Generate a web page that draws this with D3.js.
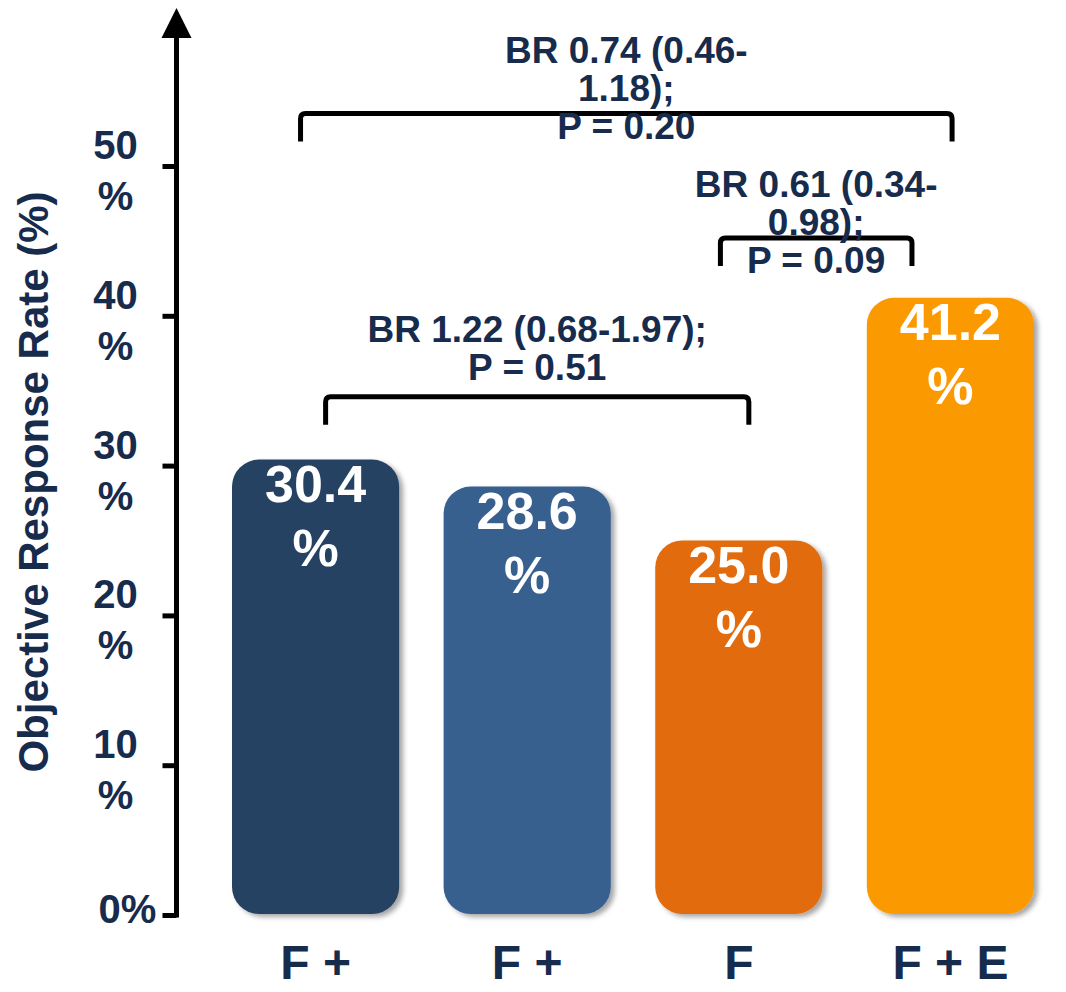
<!DOCTYPE html>
<html>
<head>
<meta charset="utf-8">
<script src="https://cdn.jsdelivr.net/npm/d3@7"></script>
<style>
  html, body { margin: 0; padding: 0; background: #ffffff; }
  svg { display: block; }
  text { font-family: "Liberation Sans", Arial, sans-serif; font-weight: bold; }
</style>
</head>
<body>
<svg id="chart" width="1066" height="992"></svg>
<script>
// ---- data ----
const categories = ["F +", "F +", "F", "F + E"];
const values = [30.4, 28.6, 25.0, 41.2];
const barColors = ["#284263", "#37618f", "#e26c0c", "#fb9900"];
const valueLabels = [["30.4", "%"], ["28.6", "%"], ["25.0", "%"], ["41.2", "%"]];
const yTicks = [0, 10, 20, 30, 40, 50];
const yTickLabels = [["0%"], ["10", "%"], ["20", "%"], ["30", "%"], ["40", "%"], ["50", "%"]];
const yTitle = "Objective Response Rate (%)";
const bracketPairs = [[0, 2], [2, 3], [0, 3]];
const bracketLevels = [34.6, 45.2, 53.5];
const bracketTexts = [
  ["BR 1.22 (0.68-1.97);", "P = 0.51"],
  ["BR 0.61 (0.34-", "0.98);", "P = 0.09"],
  ["BR 0.74 (0.46-", "1.18);", "P = 0.20"]
];
const bracketTextLevels = [38.25, 47.9, 56.9];

// ---- layout ----
const navy = "#172b4d";
const svg = d3.select("#chart");
const axisX = 176.5;
const y = d3.scaleLinear().domain([0, 50]).range([915, 166]);
const x = d3.scaleBand().domain(d3.range(categories.length)).range([232, 1034])
  .paddingInner(0.21).paddingOuter(0);

const defs = svg.append("defs");
const f = defs.append("filter").attr("id", "shadow")
  .attr("x", "-10%").attr("y", "-10%").attr("width", "130%").attr("height", "130%");
f.append("feDropShadow").attr("dx", 4).attr("dy", 3).attr("stdDeviation", 2.5)
  .attr("flood-color", "#000").attr("flood-opacity", 0.35);

// bars
svg.append("g").selectAll("rect").data(values).join("rect")
  .attr("x", (d, i) => x(i))
  .attr("y", d => y(d))
  .attr("width", x.bandwidth())
  .attr("height", d => y(0) - 1 - y(d))
  .attr("rx", 27).attr("ry", 27)
  .attr("fill", (d, i) => barColors[i])
  .attr("filter", "url(#shadow)");

// value labels
const vl = svg.append("g").selectAll("text").data(values).join("text")
  .attr("text-anchor", "middle")
  .attr("fill", "#ffffff")
  .attr("font-size", 52);
vl.each(function (d, i) {
  const t = d3.select(this);
  valueLabels[i].forEach((s, k) => {
    t.append("tspan").attr("x", x(i) + x.bandwidth() / 2)
      .attr("y", y(d) + 42 + k * 64).text(s);
  });
});

// y axis (ticks + labels)
const yAxis = d3.axisLeft(y).tickValues(yTicks).tickSize(14).tickFormat("");
const gy = svg.append("g").attr("transform", `translate(${axisX},0)`).call(yAxis);
gy.select(".domain").remove();
gy.selectAll(".tick line").attr("stroke", "#000").attr("stroke-width", 5);
gy.selectAll(".tick").each(function (d) {
  const i = yTicks.indexOf(d);
  const lines = yTickLabels[i];
  const t = d3.select(this).append("text")
    .attr("fill", navy).attr("font-size", 40).attr("text-anchor", "middle");
  if (lines.length === 1) {
    t.append("tspan").attr("x", -49).attr("y", 7.5).text(lines[0]);
  } else {
    lines.forEach((s, k) => {
      t.append("tspan").attr("x", -61).attr("y", -7.5 + k * 51).text(s);
    });
  }
});

// vertical axis line with arrow
svg.append("line").attr("x1", axisX).attr("x2", axisX)
  .attr("y1", y(0) + 2.5).attr("y2", 36)
  .attr("stroke", "#000").attr("stroke-width", 5);
svg.append("path")
  .attr("d", `M${axisX},8 L${axisX + 15},38 L${axisX - 15},38 Z`)
  .attr("fill", "#000");

// x axis baseline + labels
svg.append("line").attr("x1", axisX - 2.5).attr("x2", 1066)
  .attr("y1", y(0)).attr("y2", y(0))
  .attr("stroke", "#000").attr("stroke-width", 5)
  .attr("filter", "url(#shadow)");
const xAxis = d3.axisBottom(x).tickSize(0).tickPadding(0).tickFormat(i => categories[i]);
const gx = svg.append("g").attr("transform", `translate(0,${y(0)})`).call(xAxis);
gx.select(".domain").remove();
gx.selectAll(".tick text")
  .attr("fill", navy).attr("font-size", 48)
  .attr("y", 64).attr("dy", 0)
  .attr("font-family", "'Liberation Sans', Arial, sans-serif").attr("font-weight", "bold");

// y title
svg.append("text")
  .attr("transform", `translate(48,${482}) rotate(-90)`)
  .attr("text-anchor", "middle")
  .attr("fill", navy).attr("font-size", 42)
  .text(yTitle);

// comparison brackets
const bracketAnchors = [[0.56, 0.56], [0.39, 0.27], [0.41, 0.51]];
bracketPairs.forEach((p, j) => {
  const x1 = x(p[0]) + x.bandwidth() * bracketAnchors[j][0];
  const x2 = x(p[1]) + x.bandwidth() * bracketAnchors[j][1];
  const yt = y(bracketLevels[j]);
  const leg = 28, r = 5;
  svg.append("path")
    .attr("d", `M${x1},${yt + leg} L${x1},${yt + r} Q${x1},${yt} ${x1 + r},${yt} L${x2 - r},${yt} Q${x2},${yt} ${x2},${yt + r} L${x2},${yt + leg}`)
    .attr("fill", "none").attr("stroke", "#000").attr("stroke-width", 5);
  const t = svg.append("text").attr("text-anchor", "middle")
    .attr("fill", navy).attr("font-size", 37);
  bracketTexts[j].forEach((s, k) => {
    t.append("tspan").attr("x", (x1 + x2) / 2)
      .attr("y", y(bracketTextLevels[j]) + k * 38).text(s);
  });
});
</script>
</body>
</html>
